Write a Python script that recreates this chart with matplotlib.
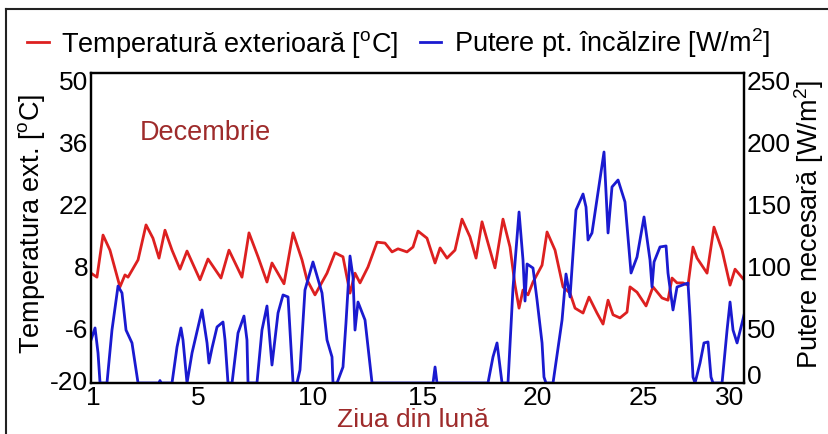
import matplotlib
matplotlib.use("Agg")
import matplotlib.pyplot as plt
from matplotlib.lines import Line2D
from matplotlib.transforms import ScaledTranslation

plt.rcParams["font.family"] = ["Liberation Sans", "DejaVu Sans"]
plt.rcParams["mathtext.fontset"] = "custom"
plt.rcParams["mathtext.rm"] = "Liberation Sans"
plt.rcParams["mathtext.it"] = "Liberation Sans:italic"
plt.rcParams["mathtext.bf"] = "Liberation Sans:bold"
plt.rcParams["axes.unicode_minus"] = False

# Outdoor temperature [°C] over the month (x in hours since 1 December)
temp_hours = [0, 6.8, 13.7, 21.6, 33.0, 38.7, 42.2, 53.6, 62.7, 70.6,
              77.5, 84.3, 92.3, 101.4, 109.4, 124.2, 133.3, 148.1, 157.2, 172.0,
              180.0, 190.3, 200.5, 206.2, 219.9, 230.2, 240.4, 246.1, 255.2, 268.9,
              278.0, 287.1, 295.1, 300.8, 306.5, 315.6, 325.9, 335.0, 343.0, 349.8,
              360.0, 366.9, 372.6, 382.8, 392.0, 397.7, 405.6, 414.7, 422.7, 431.8,
              438.7, 445.5, 460.3, 469.4, 477.4, 483.1, 487.7, 492.2, 497.9, 503.6,
              513.9, 519.6, 528.7, 537.8, 545.8, 551.5, 560.6, 567.4, 576.5, 583.4,
              589.1, 594.8, 602.7, 610.7, 614.1, 622.1, 632.4, 640.3, 650.6, 657.4,
              662.0, 667.7, 674.5, 680.2, 685.9, 690.5, 701.9, 709.8, 719.0, 728.1,
              733.8, 744]
temp_values = [4.8, 3.9, 13.4, 10.0, 1.7, 4.4, 3.9, 7.8, 15.7, 12.7,
               8.2, 14.5, 10.0, 5.7, 9.8, 3.3, 8.0, 3.7, 10.0, 3.9,
               13.9, 8.5, 2.8, 7.1, 2.4, 13.9, 7.8, 3.3, -0.1, 4.8,
               9.4, 8.5, 0.3, 4.8, 2.6, 6.2, 11.8, 11.6, 9.6, 10.3,
               9.6, 10.7, 14.3, 12.7, 7.1, 10.5, 8.2, 10.0, 17.0, 13.0,
               8.2, 16.4, 6.0, 17.0, 10.7, 2.1, -3.1, 1.0, -0.1, 2.8,
               6.6, 14.1, 10.0, 1.7, 0.3, -3.1, -4.2, -0.6, -4.2, -6.7,
               -1.3, -4.6, -5.3, -4.0, 1.7, 0.5, -2.6, 1.7, -0.8, -1.3,
               3.7, 2.6, 2.6, 2.1, 10.7, 8.2, 4.8, 15.2, 10.0, 2.1,
               5.7, 3.3]

# Heating power [W/m2]
power_hours = [0, 4.6, 8.0, 10.3, 18.2, 23.9, 30.8, 35.3, 39.9, 46.7,
               53.6, 77.5, 78.6, 79.7, 92.3, 98.0, 102.5, 104.8, 109.4, 115.1,
               126.5, 132.2, 134.4, 137.9, 143.6, 150.4, 152.7, 156.1, 160.7, 167.5,
               174.3, 177.7, 178.9, 189.1, 194.8, 200.5, 206.2, 213.1, 218.8, 224.5,
               230.2, 234.7, 238.1, 243.8, 252.9, 263.2, 268.9, 274.6, 275.7, 280.3,
               287.1, 290.5, 295.1, 298.5, 300.8, 304.2, 312.2, 320.2, 389.7, 392.0,
               394.2, 452.3, 458.0, 462.6, 468.3, 475.1, 480.8, 487.7, 492.2, 494.5,
               496.8, 503.6, 508.2, 513.9, 516.1, 518.4, 526.4, 536.7, 541.2, 545.8,
               552.6, 560.6, 564.0, 566.3, 570.8, 584.5, 589.1, 593.6, 600.5, 608.4,
               615.3, 622.1, 630.1, 636.9, 639.2, 641.5, 648.3, 655.2, 657.4, 663.1,
               667.7, 676.8, 680.2, 682.5, 685.9, 688.2, 693.9, 698.4, 703.0, 706.4,
               708.7, 719.0, 724.7, 728.1, 731.5, 736.1, 741.8, 744]
power_values = [34.7, 44.4, 24.2, 0, 0, 42.7, 78.2, 72.6, 42.7, 32.3,
                0, 0, 2.0, 0, 0, 29.0, 44.4, 34.7, 0, 24.2,
                58.9, 32.3, 16.1, 28.2, 45.2, 49.2, 34.7, 0, 0, 40.3,
                54.0, 34.7, 0, 0, 42.7, 62.1, 14.5, 56.5, 71.0, 69.4,
                0, 0, 10.5, 75.0, 97.6, 72.6, 34.7, 21.0, 0, 0,
                12.9, 48.4, 102.4, 85.5, 42.7, 65.3, 50.8, 0, 0, 12.9,
                0, 0, 21.0, 32.3, 0, 0, 76.6, 137.9, 99.2, 66.1,
                96.0, 92.7, 66.9, 32.3, 4.8, 0, 0, 50.8, 87.9, 69.4,
                139.5, 152.4, 141.9, 115.3, 121.0, 186.3, 121.0, 158.1, 163.7, 146.0,
                88.7, 101.6, 133.9, 99.2, 77.4, 97.6, 109.7, 110.5, 88.7, 58.9,
                77.4, 79.8, 80.6, 53.2, 4.8, 0, 16.1, 32.3, 33.1, 4.8,
                0, 0, 42.7, 65.3, 42.7, 32.3, 48.4, 54.8]

day_tick_hours = [2.3, 121.9, 252.9, 378.2, 508.1, 628.9, 728.0]
day_tick_labels = ["1", "5", "10", "15", "20", "25", "30"]
temp_ticks = [-20, -6, 8, 22, 36, 50]
power_ticks = [0, 50, 100, 150, 200, 250]

RED = "#dd2020"
BLUE = "#1a1ad0"
DARK_RED = "#9e2b2b"

fig = plt.figure(figsize=(8.29, 4.34), dpi=100)
ax = fig.add_axes([91 / 829, 51 / 434, 653 / 829, 310 / 434])
ax2 = ax.twinx()

ax.plot(temp_hours, temp_values, color=RED, lw=2.0, solid_joinstyle="round")
ax2.plot(power_hours, power_values, color=BLUE, lw=2.0, solid_joinstyle="round")

ax.set_xlim(0, 744)
ax.set_ylim(-20, 50)
ax2.set_ylim(0, 250)

ax.set_xticks(day_tick_hours, day_tick_labels)
ax.set_yticks(temp_ticks)
ax2.set_yticks(power_ticks)

for a in (ax, ax2):
    for s in a.spines.values():
        s.set_linewidth(1.6)
        s.set_color("black")
ax.tick_params(axis="both", length=0, labelsize=19)
ax.tick_params(axis="y", pad=2)
ax.tick_params(axis="x", pad=2)
ax2.tick_params(axis="y", length=0, labelsize=19, pad=2)

# nudge the y tick labels slightly below their gridline, bottom one upward
down = ScaledTranslation(0, -8 / 100, fig.dpi_scale_trans)
for a, up_px in ((ax, 3), (ax2, 9)):
    ticks = a.yaxis.get_major_ticks()
    for i, t in enumerate(ticks):
        for lab in (t.label1, t.label2):
            if i == 0:
                lab.set_transform(lab.get_transform() + ScaledTranslation(0, up_px / 100, fig.dpi_scale_trans))
            else:
                lab.set_transform(lab.get_transform() + down)

ax.set_ylabel(r"Temperatura ext. [$^{\mathrm{o}}$C]", fontsize=19.5)
ax.yaxis.set_label_coords(-0.067, 0.513)
ax2.set_ylabel(r"Putere necesară [W/m$^{2}$]", fontsize=19.5)
ax2.yaxis.set_label_coords(1.074, 0.51)
ax.set_xlabel("Ziua din lună", fontsize=19, color=DARK_RED, va="baseline")
ax.xaxis.set_label_coords(0.493, -0.143)

ax.text(0.075, 0.806, "Decembrie", transform=ax.transAxes, ha="left", va="center",
        fontsize=19.5, color=DARK_RED)

handles = [Line2D([], [], color=RED, lw=2.0), Line2D([], [], color=BLUE, lw=2.0)]
labels = [r"Temperatură exterioară [$^{\mathrm{o}}$C]", r"Putere pt. încălzire [W/m$^{2}$]"]
fig.legend(handles, labels, loc="center left", bbox_to_anchor=(27 / 829, 1 - 43 / 434),
           ncol=2, frameon=False, fontsize=19.5, handlelength=0.8, handletextpad=0.45,
           columnspacing=0.8, borderpad=0, borderaxespad=0)

# outer frame
fig.add_artist(Line2D([6 / 829, 6 / 829], [0, 1 - 9 / 434], transform=fig.transFigure,
                      color="#222222", lw=1.5))
fig.add_artist(Line2D([6 / 829, 1], [1 - 9 / 434, 1 - 9 / 434], transform=fig.transFigure,
                      color="#222222", lw=1.5))

fig.savefig("out.png", dpi=100)
